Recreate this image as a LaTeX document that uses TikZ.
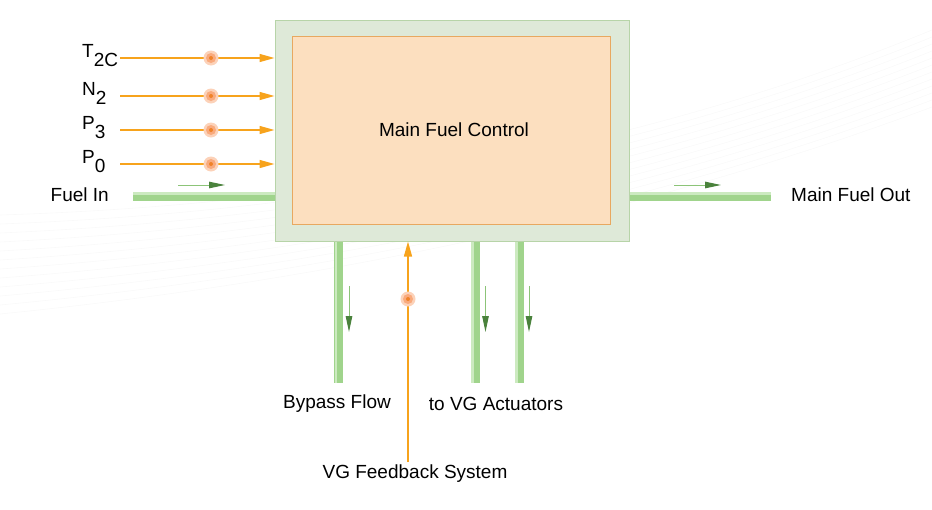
\documentclass[tikz,border=0pt]{standalone}
\usepackage{fontspec}
\setmainfont{Liberation Sans}
\usetikzlibrary{arrows.meta,calc}
\definecolor{boxgreen}{RGB}{222,233,216}
\definecolor{boxgreenline}{RGB}{183,212,168}
\definecolor{peach}{RGB}{252,223,191}
\definecolor{peachline}{RGB}{232,168,96}
\definecolor{sig}{RGB}{247,163,28}
\definecolor{pipe}{RGB}{160,212,140}
\definecolor{pipelight}{RGB}{204,234,192}
\definecolor{flowdark}{RGB}{74,130,60}
\definecolor{flowlight}{RGB}{140,196,120}
\definecolor{glowout}{RGB}{252,210,185}
\definecolor{glowmid}{RGB}{249,170,125}
\definecolor{glowin}{RGB}{240,130,40}
\begin{document}
\begin{tikzpicture}[x=1pt,y=-1pt,
  font=\fontsize{19}{22}\selectfont,
  lbl/.style={inner sep=0pt},
  sigline/.style={draw=sig,line width=1.4pt,-{Triangle[length=15pt,width=8pt,color=sig]}},
  pipeh/.style={draw=pipe,line width=9pt},
  pipehl/.style={draw=pipelight,line width=2.5pt},
  flow/.style={draw=flowlight,line width=1pt,-{Triangle[length=16pt,width=6.5pt,color=flowdark]}}
]
\useasboundingbox (0,0) rectangle (932,509);
% faint background swooshes
\foreach \i in {0,...,11}{
  \draw[black!2.5,line width=0.6pt] (0,{215+\i*9}) .. controls (320,{205+\i*7}) and (640,{150+\i*6}) .. (932,{30+\i*7});
}
% main boxes
\node[draw=boxgreenline,fill=boxgreen,line width=1pt,minimum width=354pt,minimum height=221pt,inner sep=0pt] (outer) at (452,130.5) {};
\node[draw=peachline,fill=peach,line width=1pt,minimum width=318pt,minimum height=188pt,inner sep=0pt] (mfc) at (451,130) {};
\node[lbl] (mfct) at (454,130) {Main Fuel Control};

% signal inputs
\foreach \nm/\yy in {sT/58,sN/96,sP/130,sQ/164}{
  \coordinate (\nm) at (120,\yy);
  \coordinate (\nm d) at (211,\yy);
}
\node[lbl,anchor=base west] (lT) at (82,57) {T\raisebox{-9pt}{2C}};
\node[lbl,anchor=base west] (lN) at (82,95) {N\raisebox{-9pt}{2}};
\node[lbl,anchor=base west] (lP) at (82,129.5) {P\raisebox{-9pt}{3}};
\node[lbl,anchor=base west] (lQ) at (82,163.5) {P\raisebox{-9pt}{0}};
\foreach \nm in {sT,sN,sP,sQ}{
  \draw[sigline] (\nm) -- (\nm -| outer.west);
}

% fuel pipes horizontal
\coordinate (fin) at (133,196);
\coordinate (fout) at (771,196);
\draw[pipeh] (fin) -- (fin -| outer.west);
\draw[pipehl] ($(fin)+(0,-2.5)$) -- ($(fin -| outer.west)+(0,-2.5)$);
\draw[pipeh] (fout -| outer.east) -- (fout);
\draw[pipehl] ($(fout -| outer.east)+(0,-2.5)$) -- ($(fout)+(0,-2.5)$);
\node[lbl,anchor=east] (lfin) at (109,195) {Fuel In};
\node[lbl,anchor=west] (lfout) at (791,195) {Main Fuel Out};
\coordinate (fa1) at (178,185); \coordinate (fa2) at (225,185);
\coordinate (fb1) at (674,185); \coordinate (fb2) at (721,185);
\draw[flow] (fa1) -- (fa2);
\draw[flow] (fb1) -- (fb2);

% vertical pipes
\coordinate (bp) at (338.5,383);
\coordinate (va) at (475,383);
\coordinate (vb) at (519,383);
\foreach \p in {bp,va,vb}{
  \draw[pipeh] (\p |- outer.south) -- (\p);
  \draw[pipehl] ($(\p |- outer.south)+(-2.5,0)$) -- ($(\p)+(-2.5,0)$);
}
\coordinate (ba1) at (349,286); \coordinate (ba2) at (349,332);
\coordinate (vaa1) at (485.5,286); \coordinate (vaa2) at (485.5,332);
\coordinate (vba1) at (529,286); \coordinate (vba2) at (529,332);
\draw[flow] (ba1) -- (ba2);
\draw[flow] (vaa1) -- (vaa2);
\draw[flow] (vba1) -- (vba2);
\node[lbl] (lbp) at (337,404) {Bypass Flow};
\node[lbl] (lvg) at (496,404) {to VG Actuators};

% feedback
\node[lbl] (lfb) at (415,474) {VG Feedback System};
\coordinate (fbs) at (408,462);
\coordinate (fbd) at (408,299);
\draw[sigline] (fbs) -- (fbs |- outer.south);

% glow dots
\foreach \nm in {sTd,sNd,sPd,sQd,fbd}{
  \fill[glowout] (\nm) circle (7.5pt);
  \fill[glowmid] (\nm) circle (5pt);
  \fill[glowin] (\nm) circle (2pt);
}
\end{tikzpicture}
\end{document}
